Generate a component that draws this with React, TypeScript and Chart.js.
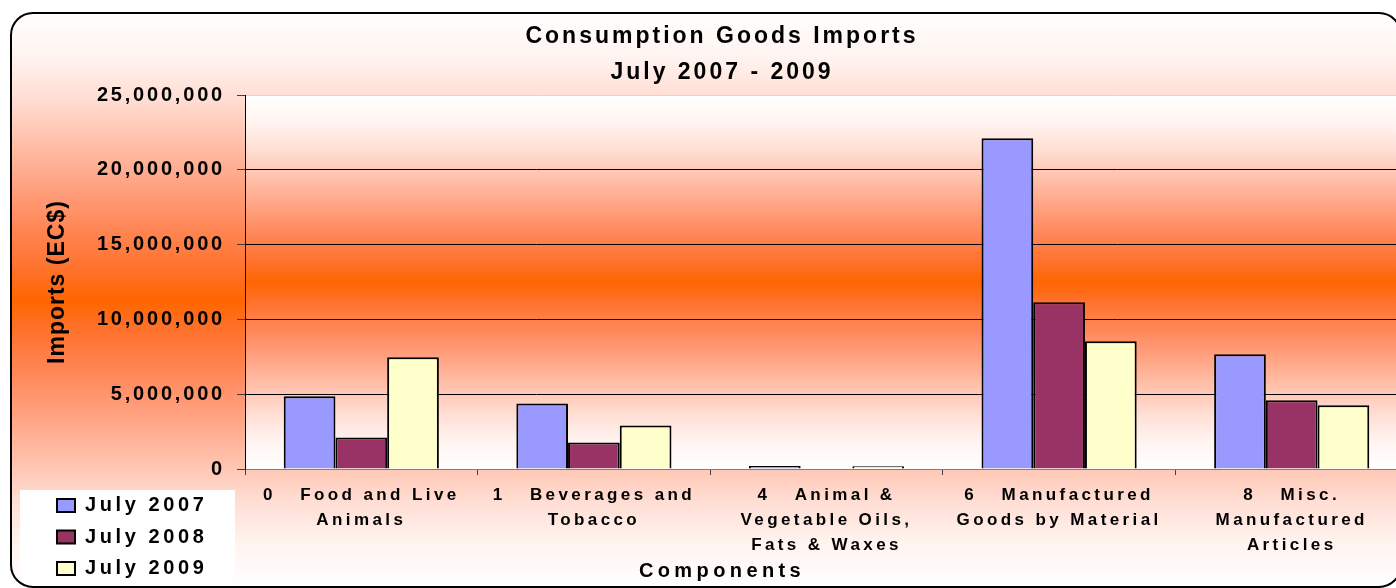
import React, { useEffect, useRef } from 'react';
import { Chart, registerables } from 'chart.js';

Chart.register(...registerables);

// ---- data ----
const categories: string[][] = [
  ['0   Food and Live', 'Animals'],
  ['1   Beverages and', 'Tobacco'],
  ['4   Animal &', 'Vegetable Oils,', 'Fats & Waxes'],
  ['6   Manufactured', 'Goods by Material'],
  ['8   Misc.', 'Manufactured', 'Articles'],
];
const seriesNames = ['July 2007', 'July 2008', 'July 2009'];
const july2007 = [4870000, 4380000, 200000, 22110000, 7670000];
const july2008 = [2110000, 1780000, 0, 11150000, 4600000];
const july2009 = [7470000, 2910000, 190000, 8550000, 4270000];
const seriesColors = ['#9999FF', '#993366', '#FFFFCC'];
const yTickLabels = ['0', '5,000,000', '10,000,000', '15,000,000', '20,000,000', '25,000,000'];
const yAxisMax = 25000000;
const yAxisStep = 5000000;
const titleLines = ['Consumption Goods Imports', 'July 2007 - 2009'];
const yAxisTitle = 'Imports (EC$)';
const xAxisTitle = 'Components';

// letter spacing per text role (keyed by a marker family name)
const SPACING: Record<string, number> = {
  ttl: 3.0,
  ytick: 2.8,
  ytitle: 1.0,
  xtick: 3.4,
  comp: 4.4,
  lgd: 3.6,
};
const fam = (marker: string) => `"Liberation Sans", ${marker}`;

const STOPS: [number, string][] = [
  [0, '#FFFFFF'],
  [0.15, '#FFF4F0'],
  [0.3, '#FFDDD3'],
  [0.45, '#FFC0AA'],
  [0.6, '#FFA282'],
  [0.75, '#FF8656'],
  [0.9, '#FF712A'],
  [1, '#FF6600'],
];

function vGrad(ctx: CanvasRenderingContext2D, top: number, bottom: number) {
  const g = ctx.createLinearGradient(0, top, 0, bottom);
  for (const [t, c] of STOPS) g.addColorStop(t / 2, c);
  for (const [t, c] of STOPS) g.addColorStop(1 - t / 2, c);
  return g;
}

function roundRect(ctx: CanvasRenderingContext2D, x: number, y: number, w: number, h: number, r: number) {
  ctx.beginPath();
  ctx.moveTo(x + r, y);
  ctx.lineTo(x + w - r, y);
  ctx.arcTo(x + w, y, x + w, y + r, r);
  ctx.lineTo(x + w, y + h - r);
  ctx.arcTo(x + w, y + h, x + w - r, y + h, r);
  ctx.lineTo(x + r, y + h);
  ctx.arcTo(x, y + h, x, y + h - r, r);
  ctx.lineTo(x, y + r);
  ctx.arcTo(x, y, x + r, y, r);
  ctx.closePath();
}

const decorPlugin = {
  id: 'decor',
  afterLayout(chart: any) {
    const lg = chart.legend;
    if (!lg) return;
    const w = lg.width;
    const h = lg.height;
    lg.left = 35.5;
    lg.top = 472;
    lg.right = lg.left + w;
    lg.bottom = lg.top + h;
  },
  beforeDraw(chart: any) {
    const ctx: CanvasRenderingContext2D = chart.ctx;
    const ca = chart.chartArea;
    ctx.save();
    ctx.fillStyle = '#FFFFFF';
    ctx.fillRect(0, 0, chart.width, chart.height);
    roundRect(ctx, 1, 1, 1390, 574, 22);
    ctx.fillStyle = vGrad(ctx, 1, 575);
    ctx.fill();
    ctx.lineWidth = 2;
    ctx.strokeStyle = '#000000';
    ctx.stroke();
    ctx.fillStyle = vGrad(ctx, ca.top, ca.bottom);
    ctx.fillRect(ca.left, ca.top, ca.right - ca.left, ca.bottom - ca.top);
    ctx.fillStyle = '#FFFFFF';
    ctx.fillRect(10, 478, 215, 90);
    ctx.restore();
  },
};

export default function App() {
  const ref = useRef<HTMLCanvasElement | null>(null);

  useEffect(() => {
    const canvas = ref.current;
    if (!canvas) return;
    const ctx = canvas.getContext('2d') as CanvasRenderingContext2D;
    const desc = Object.getOwnPropertyDescriptor(CanvasRenderingContext2D.prototype, 'font')!;
    Object.defineProperty(ctx, 'font', {
      configurable: true,
      get() {
        return desc.get!.call(this);
      },
      set(v: string) {
        desc.set!.call(this, v);
        const m = /,\s*([A-Za-z0-9_-]+)\s*$/.exec(v);
        const sp = m && SPACING[m[1]] != null ? SPACING[m[1]] : 0;
        try {
          (this as any).letterSpacing = sp + 'px';
        } catch (e) {
          /* ignore */
        }
      },
    });

    Chart.defaults.font.family = '"Liberation Sans", Arial, sans-serif';
    Chart.defaults.color = '#000000';

    const series = [july2007, july2008, july2009];
    const chart = new Chart(canvas, {
      type: 'bar',
      data: {
        labels: categories,
        datasets: series.map((d, i) => ({
          label: seriesNames[i],
          data: d,
          backgroundColor: seriesColors[i],
          borderColor: '#000000',
          borderWidth: 2,
          barPercentage: 1,
          categoryPercentage: 0.667,
        })),
      },
      options: {
        responsive: false,
        animation: false,
        layout: { padding: 0 },
        plugins: {
          title: {
            display: true,
            text: titleLines,
            color: '#000000',
            font: { family: fam('ttl'), size: 23, weight: 'bold', lineHeight: 1.55 },
            padding: { top: 7, bottom: 4.8 },
          },
          subtitle: {
            display: true,
            position: 'bottom',
            text: xAxisTitle,
            color: '#000000',
            font: { family: fam('comp'), size: 20, weight: 'bold', lineHeight: 1.2 },
            padding: { top: 0, bottom: 9 },
          },
          legend: {
            display: true,
            position: 'chartArea',
            align: 'start',
            labels: {
              color: '#000000',
              font: { family: fam('lgd'), size: 20, weight: 'bold' },
              boxWidth: 18,
              boxHeight: 13,
              padding: 11.5,
              textAlign: 'left',
            },
          },
          tooltip: { enabled: false },
        },
        scales: {
          x: {
            offset: true,
            grid: {
              display: true,
              offset: true,
              drawOnChartArea: false,
              drawTicks: true,
              tickLength: 6,
              tickColor: '#404040',
            },
            border: { display: true, color: '#808080', width: 1 },
            ticks: {
              autoSkip: false,
              maxRotation: 0,
              minRotation: 0,
              padding: 8,
              color: '#000000',
              font: { family: fam('xtick'), size: 17, weight: 'bold', lineHeight: 1.47 },
            },
            afterFit: (s: any) => {
              s.height = 90;
            },
          },
          y: {
            min: 0,
            max: yAxisMax,
            ticks: {
              stepSize: yAxisStep,
              padding: 12,
              color: '#000000',
              font: { family: fam('ytick'), size: 20, weight: 'bold' },
              callback: (_v: any, i: number) => yTickLabels[i],
            },
            grid: {
              color: (c: any) =>
                c.tick && c.tick.value === yAxisMax ? '#D8D8D8' : c.tick && c.tick.value === 0 ? '#808080' : '#000000',
              lineWidth: 1,
              drawTicks: true,
              tickLength: 8,
              tickColor: '#404040',
            },
            border: { display: true, color: '#000000', width: 1 },
            title: {
              display: true,
              text: yAxisTitle,
              color: '#000000',
              font: { family: fam('ytitle'), size: 23, weight: 'bold', lineHeight: 1.2 },
              padding: { top: 34, bottom: 0 },
            },
            afterFit: (s: any) => {
              s.width = 235;
            },
          },
          y2: {
            type: 'linear',
            position: 'right',
            display: true,
            grid: { display: false, drawTicks: false },
            border: { display: false },
            ticks: { display: false },
            afterFit: (s: any) => {
              s.width = 26;
            },
          },
        },
      } as any,
      plugins: [decorPlugin as any],
    });

    return () => {
      chart.destroy();
    };
  }, []);

  return (
    <div
      style={{
        position: 'fixed',
        left: 0,
        top: 0,
        width: 1396,
        height: 588,
        overflow: 'hidden',
        background: '#FFFFFF',
      }}
    >
      <canvas
        ref={ref}
        width={1424}
        height={580}
        style={{ position: 'absolute', left: 10, top: 12, width: 1424, height: 580 }}
      />
    </div>
  );
}
